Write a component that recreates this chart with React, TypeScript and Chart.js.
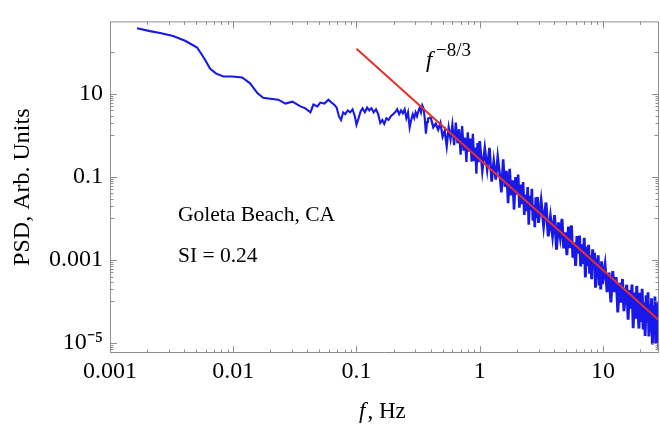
import React, { useEffect, useRef } from 'react';
import { Chart, registerables } from 'chart.js';

Chart.register(...registerables);

const FONT = '"Liberation Serif", "Times New Roman", Times, serif';

// ---- Data (frequency in Hz, PSD in arbitrary units) ----
// Smooth low-frequency part
const lowFreqHz = [0.00166, 0.00211, 0.00255, 0.00325, 0.00407, 0.00509, 0.00581, 0.0065, 0.00728, 0.0083, 0.0098, 0.0118, 0.0137, 0.0157, 0.0175, 0.02, 0.0232, 0.0265, 0.0302, 0.0351, 0.0385, 0.0423, 0.0447, 0.0482, 0.0509, 0.055, 0.0592, 0.0627];
const lowPsd = [381, 325, 292, 248, 190, 131, 72, 40.2, 30.8, 26.2, 26.2, 24.9, 18.0, 10.5, 8.07, 7.65, 7.25, 5.85, 6.51, 4.99, 4.48, 3.61, 5.55, 4.99, 6.18, 5.85, 7.25, 6.18];

// Plateau with small fluctuations
const midFreqHz = [0.066, 0.069, 0.072, 0.075, 0.078, 0.081, 0.085, 0.089, 0.093, 0.097, 0.1, 0.104, 0.108, 0.112, 0.117, 0.122, 0.127, 0.132, 0.138, 0.144, 0.15, 0.156, 0.162, 0.168, 0.175, 0.182, 0.19, 0.198, 0.206, 0.214, 0.222, 0.23, 0.238, 0.246, 0.254, 0.262, 0.27, 0.278, 0.286, 0.294, 0.302, 0.31, 0.318, 0.326, 0.334, 0.342, 0.35, 0.358, 0.366, 0.374];
const midPsd = [5.5, 4.7, 2.9, 2.35, 3.6, 3.25, 4.0, 3.6, 4.25, 2.9, 1.8, 2.6, 3.8, 4.5, 3.6, 4.7, 4.0, 4.5, 3.6, 4.25, 3.25, 2.0, 2.35, 1.9, 2.6, 2.35, 2.9, 3.25, 3.6, 4.25, 3.25, 4.0, 3.4, 4.25, 2.6, 3.6, 1.55, 2.35, 3.25, 2.6, 3.6, 2.9, 3.8, 4.7, 3.6, 5.3, 4.5, 2.6, 1.1, 2.1];

// Noisy inertial range, 0.38 - 1 Hz
const band1FreqHz = [0.38, 0.4, 0.42, 0.44, 0.46, 0.48, 0.5, 0.52, 0.54, 0.56, 0.58, 0.6, 0.62, 0.64, 0.66, 0.68, 0.7, 0.72, 0.74, 0.76, 0.78, 0.8, 0.82, 0.84, 0.86, 0.88, 0.9, 0.92, 0.94, 0.96, 0.98, 1.0];
const band1Psd = [2.53, 2.74, 1.57, 1.91, 1.37, 1.98, 0.933, 1.29, 0.552, 1.54, 0.82, 1.77, 0.586, 2.05, 0.647, 1.41, 0.342, 1.67, 0.429, 0.891, 0.23, 1.19, 0.404, 0.845, 0.232, 1.09, 0.241, 0.507, 0.119, 0.659, 0.225, 0.733];

// 1 - 3 Hz
const band2FreqHz = [1.05, 1.1, 1.15, 1.2, 1.25, 1.3, 1.35, 1.4, 1.45, 1.5, 1.55, 1.6, 1.65, 1.7, 1.75, 1.8, 1.85, 1.9, 1.95, 2.0, 2.05, 2.1, 2.15, 2.2, 2.25, 2.3, 2.35, 2.4, 2.45, 2.5, 2.55, 2.6, 2.65, 2.7, 2.75, 2.8, 2.85, 2.9, 2.95, 3.0];
const band2Psd = [0.1436, 0.484, 0.155, 0.501, 0.0769, 0.237, 0.0861, 0.299, 0.1217, 0.0424, 0.267, 0.0579, 0.1396, 0.0232, 0.156, 0.036, 0.083, 0.01637, 0.0997, 0.0374, 0.1138, 0.01828, 0.0653, 0.0222, 0.0757, 0.01219, 0.0374, 0.015, 0.0571, 0.00708, 0.0353, 0.01585, 0.0516, 0.00884, 0.0209, 0.00614, 0.0325, 0.01009, 0.033, 0.00785];

// 3 - 10 Hz
const band3FreqHz = [3.15, 3.3, 3.45, 3.6, 3.75, 3.9, 4.05, 4.2, 4.35, 4.5, 4.65, 4.8, 4.95, 5.1, 5.25, 5.4, 5.55, 5.7, 5.85, 6.0, 6.15, 6.3, 6.45, 6.6, 6.75, 6.9, 7.05, 7.2, 7.35, 7.5, 7.65, 7.8, 7.95, 8.1, 8.25, 8.4, 8.55, 8.7, 8.85, 9.0, 9.15, 9.3, 9.45, 9.6, 9.75, 9.9];
const band3Psd = [2.63e-2, 6.78e-3, 2.42e-2, 3.69e-3, 1.08e-2, 3.89e-3, 1.21e-2, 1.77e-3, 8.05e-3, 3.67e-3, 9.82e-3, 1.91e-3, 4.6e-3, 1.31e-3, 6.37e-3, 1.92e-3, 6.81e-3, 1.14e-3, 2.65e-3, 7.23e-4, 3.76e-3, 1.42e-3, 3.89e-3, 6.95e-4, 2.37e-3, 8.07e-4, 3.41e-3, 3.79e-4, 2.1e-3, 7.18e-4, 2.33e-3, 4.7e-4, 1.3e-3, 3.43e-4, 1.81e-3, 6.24e-4, 1.48e-3, 2.16e-4, 1.09e-3, 3.77e-4, 1.3e-3, 2.64e-4, 7.8e-4, 1.95e-4, 9.35e-4, 2.62e-4];

// 10 - 29 Hz
const band4FreqHz = [10.4, 10.8, 11.2, 11.6, 12, 12.4, 12.8, 13.2, 13.6, 14, 14.4, 14.8, 15.2, 15.6, 16, 16.4, 16.8, 17.2, 17.6, 18, 18.4, 18.8, 19.2, 19.6, 20, 20.4, 20.8, 21.2, 21.6, 22, 22.4, 22.8, 23.2, 23.6, 24, 24.4, 24.8, 25.2, 25.6, 26, 26.4, 26.8, 27.2, 27.6, 28, 28.4, 28.8, 29.2];
const band4Psd = [7.48e-4, 1.68e-4, 4.95e-4, 9.53e-5, 5.38e-4, 1.69e-4, 3.85e-4, 5.45e-5, 2.8e-4, 9.35e-5, 3.49e-4, 5.85e-5, 1.51e-4, 2.54e-4, 3.64e-5, 1.89e-4, 6.75e-5, 2.55e-4, 2.28e-5, 1.64e-4, 3.85e-5, 2.37e-4, 6.18e-5, 2.23e-5, 1.62e-4, 3.24e-5, 2.01e-4, 2.13e-5, 9.55e-5, 1.48e-5, 1.41e-4, 3.33e-5, 1.67e-4, 1.43e-5, 8.47e-5, 1.81e-5, 1.19e-4, 9.2e-6, 7.94e-5, 2.0e-5, 1.32e-4, 9.68e-6, 7.52e-5, 1.17e-5, 9.6e-5, 7.06e-6, 7.59e-5, 1.25e-5];

// Kolmogorov f^(-8/3) reference line (end points)
const fitFreqHz = [0.1, 30];
const fitPsd = [122, 3.05e-5];

// Axes
const xRange = [0.001, 28.5];
const yRange = [5.75e-6, 557];
const xTickValues = [0.001, 0.01, 0.1, 1, 10];
const xTickLabels = ['0.001', '0.01', '0.1', '1', '10'];
const yTickValues = [1e-5, 1e-3, 0.1, 10];
const yTickLabels = ['10\u207B\u2075', '0.001', '0.1', '10'];

const pairs = (fs: number[], ps: number[]) => fs.map((f, i) => ({ x: f, y: ps[i] }));

const psdPoints = [
  ...pairs(lowFreqHz, lowPsd),
  ...pairs(midFreqHz, midPsd),
  ...pairs(band1FreqHz, band1Psd),
  ...pairs(band2FreqHz, band2Psd),
  ...pairs(band3FreqHz, band3Psd),
  ...pairs(band4FreqHz, band4Psd),
];
const fitPoints = pairs(fitFreqHz, fitPsd);

const isDecade = (vals: number[], e: number) => vals.some((t) => Math.abs(Math.log10(t) - e) < 1e-9);

const framePlugin = {
  id: 'frameTicksText',
  afterDraw(chart: any) {
    const { ctx, chartArea } = chart;
    const { left, right, top, bottom } = chartArea;
    const xs = chart.scales.x;
    const ys = chart.scales.y;
    ctx.save();
    ctx.strokeStyle = '#8e8e8e';
    ctx.lineWidth = 1;
    ctx.beginPath();
    ctx.rect(left + 0.5, top + 0.5, right - left - 1, bottom - top - 1);
    ctx.stroke();

    ctx.beginPath();
    for (let e = -3; e <= 1; e++) {
      for (let k = 1; k <= 9; k++) {
        const v = k * Math.pow(10, e);
        if (v < xs.min || v > xs.max) continue;
        const px = Math.round(xs.getPixelForValue(v)) + 0.5;
        const len = k === 1 ? 7 : 3.5;
        ctx.moveTo(px, bottom);
        ctx.lineTo(px, bottom - len);
        ctx.moveTo(px, top);
        ctx.lineTo(px, top + len);
      }
    }
    for (let e = -6; e <= 2; e++) {
      const labeled = isDecade(yTickValues, e);
      const minorDecade = isDecade(yTickValues, e + 1);
      for (let k = 1; k <= 9; k++) {
        const v = k * Math.pow(10, e);
        if (v < ys.min || v > ys.max) continue;
        let len;
        if (k === 1) len = labeled ? 7 : 4.5;
        else if (minorDecade) len = 3.5;
        else continue;
        const py = Math.round(ys.getPixelForValue(v)) + 0.5;
        ctx.moveTo(left, py);
        ctx.lineTo(left + len, py);
        ctx.moveTo(right, py);
        ctx.lineTo(right - len, py);
      }
    }
    ctx.stroke();

    ctx.fillStyle = '#000';
    ctx.textAlign = 'left';
    ctx.textBaseline = 'alphabetic';
    ctx.font = `21.5px ${FONT}`;
    ctx.fillText('Goleta Beach, CA', 178, 221);
    ctx.fillText('SI = 0.24', 178, 262);

    ctx.font = `italic 23px ${FONT}`;
    ctx.fillText('f', 426, 67);
    ctx.font = `19px ${FONT}`;
    ctx.fillText('\u22128/3', 436, 56);

    ctx.font = `italic 23px ${FONT}`;
    ctx.fillText('f', 359, 418);
    const fw = ctx.measureText('f').width;
    ctx.font = `23px ${FONT}`;
    ctx.fillText(', Hz', 359 + fw + 2, 418);
    ctx.restore();
  },
};

// Stroke width per segment: the dense noisy part reads as a filled band in the reference
const segmentWidth = (c: any) => {
  const f = c.p0.parsed.x;
  if (f >= 3) return 2.9;
  if (f >= 1) return 2.6;
  if (f >= 0.4) return 2.3;
  return 2.1;
};

export default function App() {
  const canvasRef = useRef<HTMLCanvasElement | null>(null);

  useEffect(() => {
    document.body.style.margin = '0';
    const canvas = canvasRef.current;
    if (!canvas) return;
    const chart = new Chart(canvas, {
      type: 'line',
      data: {
        datasets: [
          {
            label: 'f^-8/3',
            data: fitPoints,
            borderColor: 'rgb(228, 48, 42)',
            borderWidth: 2,
            pointRadius: 0,
            tension: 0,
            order: 0,
          },
          {
            label: 'PSD',
            data: psdPoints,
            borderColor: 'rgb(24, 24, 232)',
            borderWidth: 2.1,
            borderJoinStyle: 'miter',
            pointRadius: 0,
            tension: 0,
            order: 1,
            segment: { borderWidth: segmentWidth },
          },
        ],
      },
      options: {
        animation: false,
        responsive: false,
        layout: { padding: { left: 0, top: 10, right: 1, bottom: 0 } },
        plugins: { legend: { display: false }, tooltip: { enabled: false } },
        scales: {
          x: {
            type: 'logarithmic',
            min: xRange[0],
            max: xRange[1],
            grid: { display: false, drawTicks: false },
            border: { display: false },
            afterBuildTicks: (s: any) => {
              s.ticks = xTickValues.map((value) => ({ value }));
            },
            afterFit: (s: any) => {
              s.height = 71;
            },
            ticks: {
              autoSkip: false,
              maxRotation: 0,
              minRotation: 0,
              padding: 4,
              color: '#000',
              font: { family: FONT, size: 24 },
              callback: (v: any) => {
                const i = xTickValues.indexOf(Number(v));
                return i >= 0 ? xTickLabels[i] : '';
              },
            },
          },
          y: {
            type: 'logarithmic',
            min: yRange[0],
            max: yRange[1],
            grid: { display: false, drawTicks: false },
            border: { display: false },
            afterBuildTicks: (s: any) => {
              s.ticks = yTickValues.map((value) => ({ value }));
            },
            afterFit: (s: any) => {
              s.width = 110;
            },
            title: {
              display: true,
              text: 'PSD, Arb. Units',
              color: '#000',
              font: { family: FONT, size: 24 },
              padding: { top: 8, bottom: 0 },
            },
            ticks: {
              autoSkip: false,
              padding: 7,
              color: '#000',
              font: { family: FONT, size: 24 },
              callback: (v: any) => {
                const i = yTickValues.indexOf(Number(v));
                return i >= 0 ? yTickLabels[i] : '';
              },
            },
          },
        },
      },
      plugins: [framePlugin],
    });
    return () => chart.destroy();
  }, []);

  return (
    <div style={{ position: 'absolute', left: 0, top: 0, width: 660, height: 424, background: '#fff' }}>
      <canvas ref={canvasRef} width={660} height={424} style={{ display: 'block' }} />
    </div>
  );
}
